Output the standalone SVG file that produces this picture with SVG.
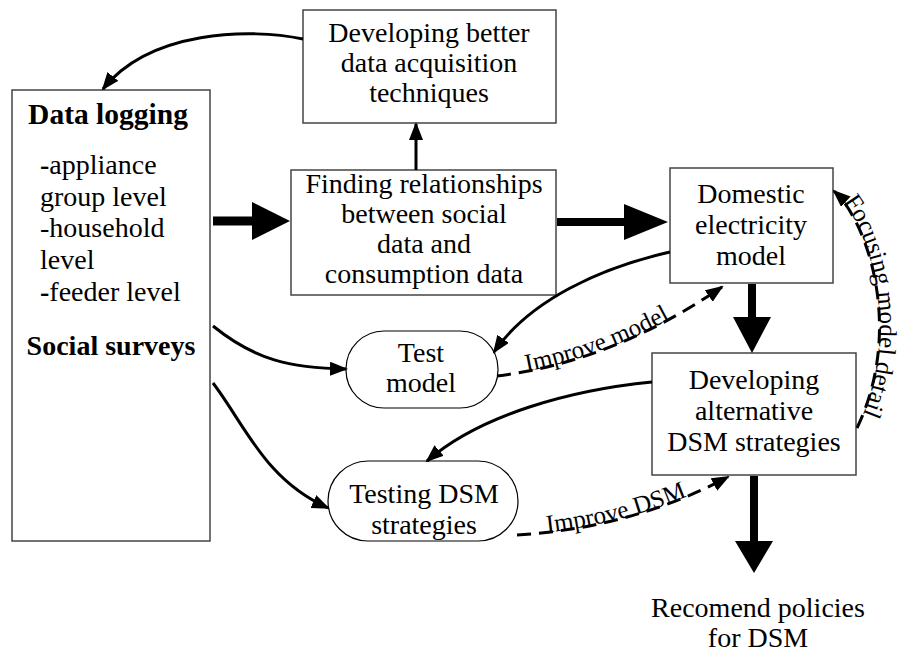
<svg xmlns="http://www.w3.org/2000/svg" width="902" height="654" viewBox="0 0 902 654" font-family="'Liberation Serif', 'Times New Roman', Tinos, 'DejaVu Serif', serif">
  <style>
    .box { fill: #fff; stroke: #444; stroke-width: 1.5; }
    .pill { fill: #fff; stroke: #000; stroke-width: 1.2; }
    .t { font-family: 'Liberation Serif', 'Times New Roman', Tinos, 'DejaVu Serif', serif; font-size: 28px; fill: #000; }
    .c { text-anchor: middle; }
    .b { font-weight: bold; }
    .big { font-size: 29.5px; }
    .lbl { font-family: 'Liberation Serif', 'Times New Roman', Tinos, 'DejaVu Serif', serif; font-size: 25px; fill: #000; }
    .thin { fill: none; stroke: #000; stroke-width: 3; marker-end: url(#ah); }
    .dash { fill: none; stroke: #000; stroke-width: 3; stroke-dasharray: 14 8; marker-end: url(#ah); }
    .thick { fill: #000; stroke: none; }
  </style>
  <defs>
    <marker id="ah" markerUnits="userSpaceOnUse" markerWidth="20" markerHeight="16" refX="16" refY="7" orient="auto">
      <path d="M0,0 L18,7 L0,14 z" fill="#000"/>
    </marker>
    <path id="focusPath" d="M834,191 C 868,222 904,330 857,428"/>
  </defs>

  <!-- nodes -->
  <g id="data-logging">
    <rect class="box" x="12" y="90" width="198" height="451"/>
    <text class="t b c big" x="108" y="124">Data logging</text>
    <text class="t" x="40" y="174"><tspan class="b">-</tspan>appliance</text>
    <text class="t" x="40" y="206">group level</text>
    <text class="t" x="40" y="237">-household</text>
    <text class="t" x="40" y="269">level</text>
    <text class="t" x="40" y="301"><tspan class="b">-</tspan>feeder level</text>
    <text class="t b c" x="111" y="355">Social surveys</text>
  </g>

  <g id="data-acquisition">
    <rect class="box" x="303" y="10" width="253" height="113"/>
    <text class="t c" x="429" y="42">Developing better</text>
    <text class="t c" x="429" y="72">data acquisition</text>
    <text class="t c" x="429" y="102">techniques</text>
  </g>

  <g id="relationships">
    <rect class="box" x="291" y="170" width="265" height="125"/>
    <text class="t c" x="424" y="193">Finding relationships</text>
    <text class="t c" x="424" y="223">between social</text>
    <text class="t c" x="424" y="253">data and</text>
    <text class="t c" x="424" y="283">consumption data</text>
  </g>

  <g id="electricity-model">
    <rect class="box" x="670" y="168" width="163" height="115"/>
    <text class="t c" x="751" y="203">Domestic</text>
    <text class="t c" x="751" y="234">electricity</text>
    <text class="t c" x="751" y="265">model</text>
  </g>

  <g id="dsm-strategies">
    <rect class="box" x="652" y="353" width="204" height="122"/>
    <text class="t c" x="754" y="389">Developing</text>
    <text class="t c" x="754" y="420">alternative</text>
    <text class="t c" x="754" y="451">DSM strategies</text>
  </g>

  <g id="test-model">
    <rect class="pill" x="346" y="331" width="152" height="77" rx="38" ry="38"/>
    <text class="t c" x="421" y="362">Test</text>
    <text class="t c" x="421" y="392">model</text>
  </g>

  <g id="testing-dsm">
    <rect class="pill" x="328" y="461" width="190" height="80" rx="40" ry="40"/>
    <text class="t c" x="424" y="503">Testing DSM</text>
    <text class="t c" x="424" y="534">strategies</text>
  </g>

  <g id="policies">
    <text class="t c" x="758" y="617">Recomend policies</text>
    <text class="t c" x="758" y="647">for DSM</text>
  </g>

  <!-- connectors -->
  <g id="connectors">
    <!-- block arrows -->
    <polygon class="thick" points="213,216.5 252,216.5 252,202 290,221 252,240 252,225.5 213,225.5"/>
    <polygon class="thick" points="557,218 624,218 624,204 668,222 624,240 624,226 557,226"/>
    <polygon class="thick" points="748,284 748,317 733,317 752,353 771,317 756,317 756,284"/>
    <polygon class="thick" points="750,476 750,541 735,541 754,573 773,541 758,541 758,476"/>

    <!-- plain arrows -->
    <line class="thin" x1="416" y1="170" x2="416" y2="124"/>
    <path class="thin" d="M303,39 C 250,28 150,30 103,89"/>
    <path class="thin" d="M213,326 C 255,360 290,368 346,369"/>
    <path class="thin" d="M213,383 C 245,425 265,480 328,508"/>
    <path class="thin" d="M670,252 C 600,268 530,300 494,352"/>
    <path class="thin" d="M652,382 C 570,390 480,415 427,461"/>

    <!-- feedback loops -->
    <path id="improveModel" class="dash" d="M497,376 Q 612,362 722,287"/>
    <path id="improveDsm" class="dash" d="M517,535 Q 632,528 728,477"/>
    <path class="dash" d="M857,428 C 904,330 868,222 834,191"/>

    <text class="lbl"><textPath href="#improveModel" startOffset="30">Improve model</textPath></text>
    <text class="lbl"><textPath href="#improveDsm" startOffset="30">Improve DSM</textPath></text>
    <text class="lbl"><textPath href="#focusPath" startOffset="14">Focusing model detail</textPath></text>
  </g>
</svg>
